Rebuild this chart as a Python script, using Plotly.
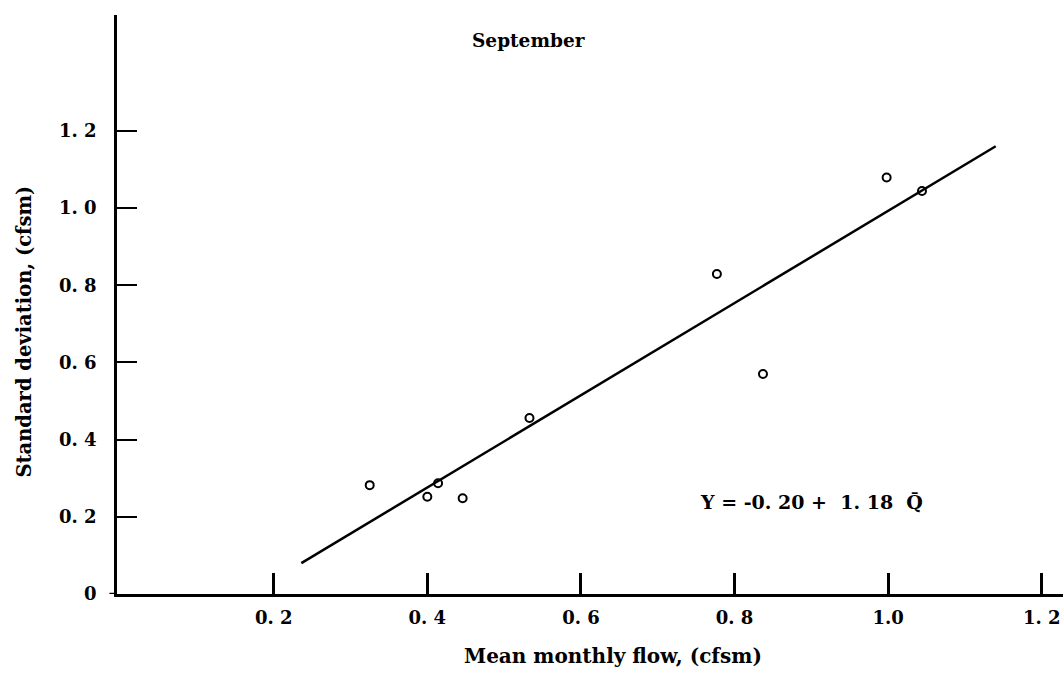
import plotly.graph_objects as go

# Data
mean_flow = [0.325, 0.400, 0.414, 0.446, 0.533, 0.777, 0.837, 0.998, 1.044]
std_dev = [0.282, 0.252, 0.287, 0.248, 0.456, 0.829, 0.570, 1.079, 1.044]

fit_x = [0.236, 1.140]
fit_y = [0.080, 1.160]

x_tickvals = [0.2, 0.4, 0.6, 0.8, 1.0, 1.2]
x_ticktext = ["0. 2", "0. 4", "0. 6", "0. 8", "1.0", "1. 2"]
y_tickvals = [0, 0.2, 0.4, 0.6, 0.8, 1.0, 1.2]
y_ticktext = ["0", "0. 2", "0. 4", "0. 6", "0. 8", "1. 0", "1. 2"]

FONT = "DejaVu Serif"
FS = 18
W, H = 1064, 673
L, R, T, B = 116.5, 1, 15, 79

fig = go.Figure()
fig.add_trace(go.Scatter(x=fit_x, y=fit_y, mode="lines",
                         line=dict(color="black", width=2.5), showlegend=False))
fig.add_trace(go.Scatter(x=mean_flow, y=std_dev, mode="markers",
                         marker=dict(symbol="circle-open", size=8, color="black",
                                     line=dict(width=2, color="black")),
                         showlegend=False))

tf = dict(family=FONT, size=FS, color="black", weight="bold")

fig.update_layout(
    width=W, height=H,
    margin=dict(l=L, r=R, t=T, b=B, pad=0),
    paper_bgcolor="white", plot_bgcolor="white",
    font=dict(family=FONT, size=FS, color="black"),
    xaxis=dict(range=[-0.004, 1.2276], showgrid=False, zeroline=False,
               showline=True, linecolor="black", linewidth=2.5,
               ticks="inside", ticklen=21, tickwidth=3, tickcolor="black",
               tickvals=x_tickvals, ticktext=x_ticktext,
               tickfont=tf, ticklabelstandoff=6),
    yaxis=dict(range=[0, 1.5], showgrid=False, zeroline=False,
               showline=True, linecolor="black", linewidth=2.5,
               ticks="inside", ticklen=20, tickwidth=2, tickcolor="black",
               tickvals=y_tickvals, ticktext=y_ticktext,
               tickfont=tf, ticklabelstandoff=14),
    shapes=[dict(type="line", xref="paper", yref="y", x0=-0.008, x1=0, y0=0, y1=0,
                 line=dict(color="black", width=2.5))],
    annotations=[
        dict(text="September", x=528, y=41, showarrow=False,
             font=dict(family=FONT, size=18.5, color="black", weight="bold")),
        dict(text="Mean monthly flow, (cfsm)", x=613, y=656, showarrow=False,
             font=dict(family=FONT, size=20, color="black", weight="bold")),
        dict(text="Standard deviation, (cfsm)", x=23, y=332, showarrow=False,
             textangle=-90,
             font=dict(family=FONT, size=19.5, color="black", weight="bold")),
        dict(text="Y = -0. 20 +  1. 18  Q\u0304", x=811, y=502, showarrow=False,
             font=dict(family=FONT, size=19, color="black", weight="bold")),
    ],
)

# convert pixel-positioned annotations to paper coords
pw = W - L - R
ph = H - T - B
anns = []
for a in fig.layout.annotations:
    d = a.to_plotly_json()
    d["xref"] = "paper"
    d["yref"] = "paper"
    d["x"] = (d["x"] - L) / pw
    d["y"] = (H - B - d["y"]) / ph
    d["xanchor"] = "center"
    d["yanchor"] = "middle"
    anns.append(d)
fig.layout.annotations = anns

fig.write_html("out.html")
